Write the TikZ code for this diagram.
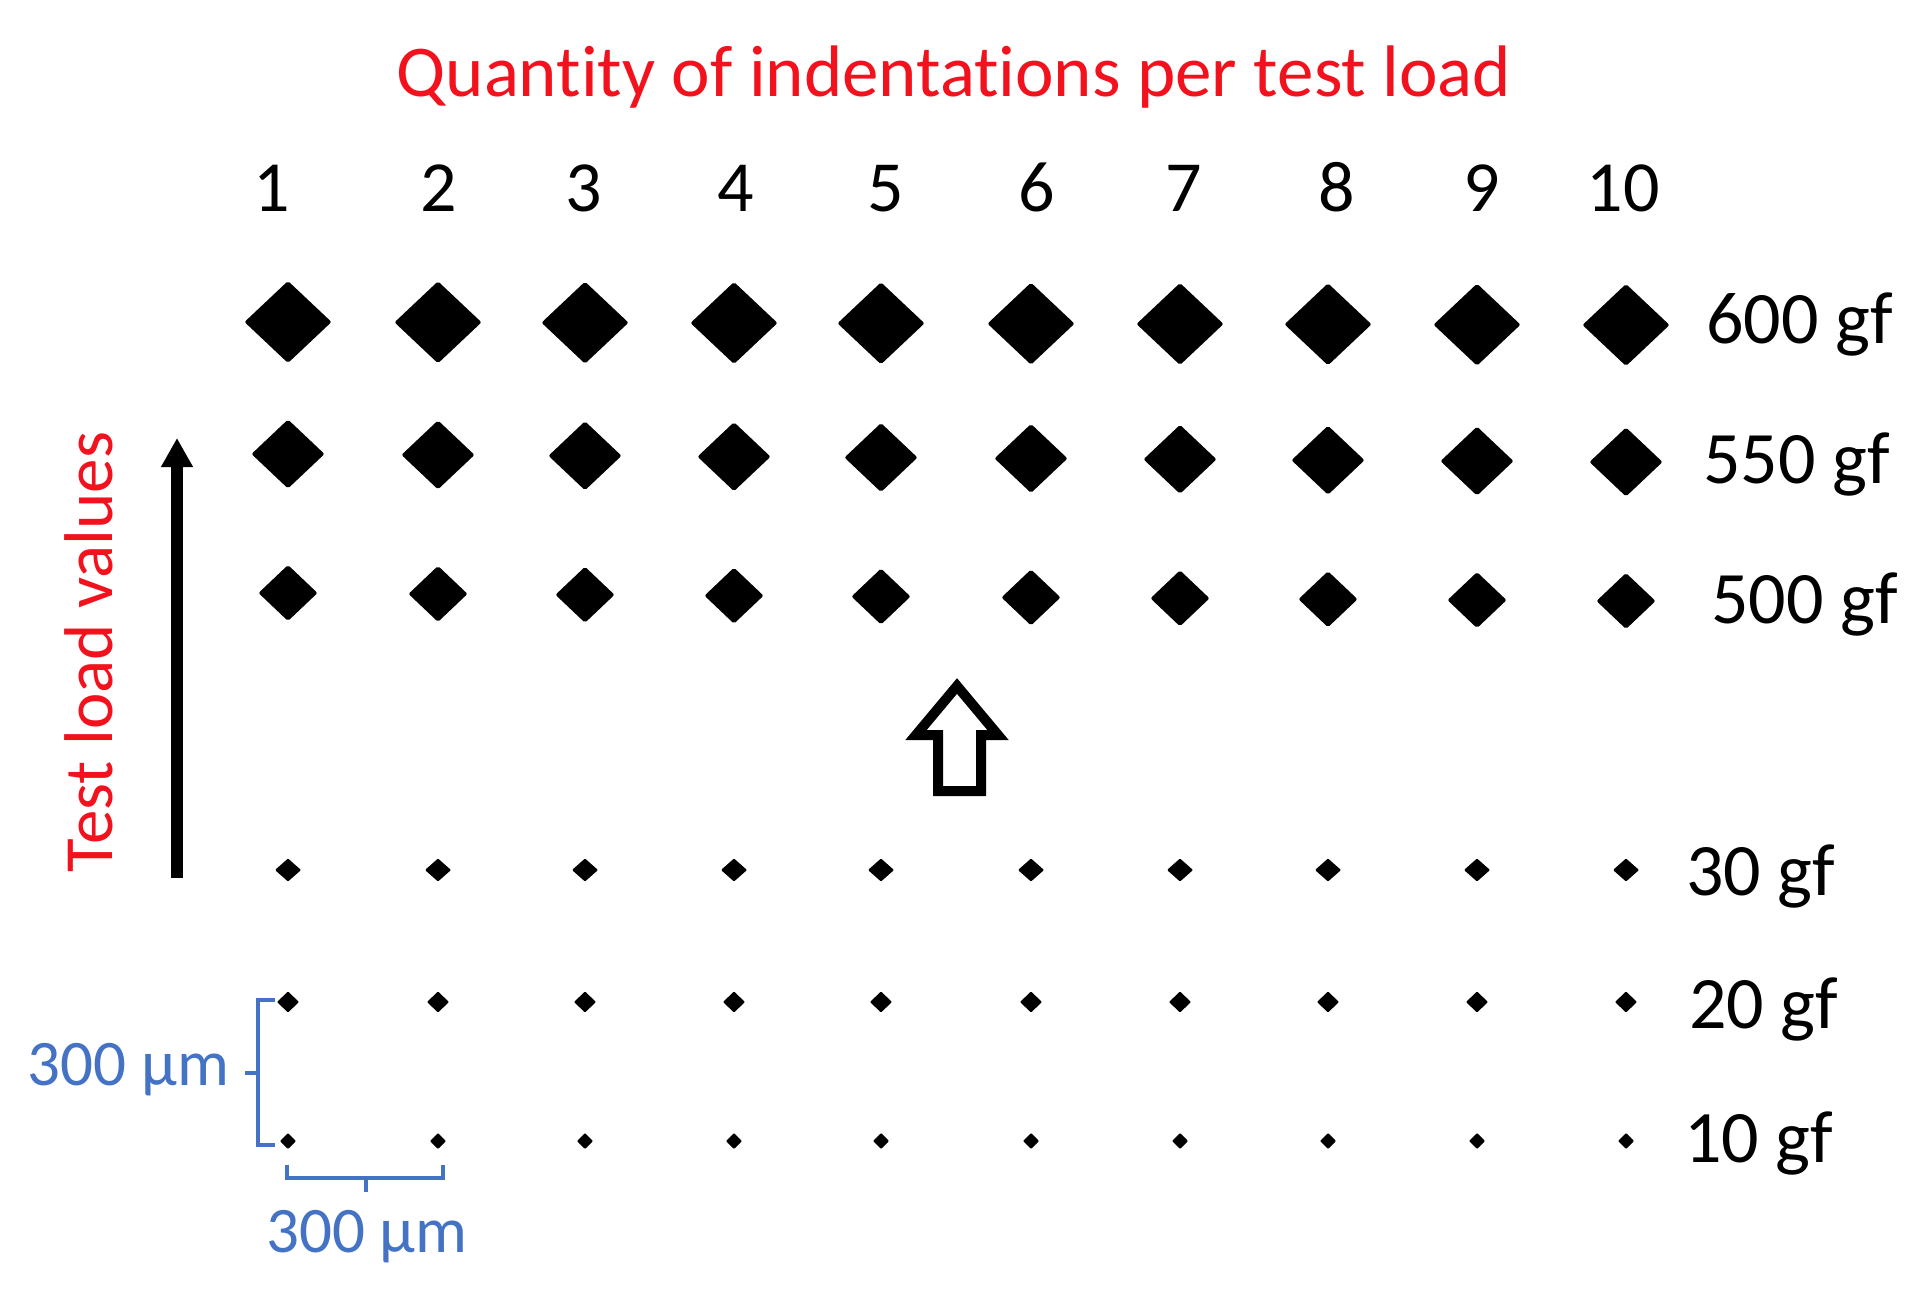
\documentclass[tikz,border=0pt]{standalone}
\usepackage{fontspec}
\setmainfont{Carlito}[Ligatures={NoCommon}]
\usetikzlibrary{shapes.geometric,arrows.meta}
\definecolor{tred}{RGB}{242,18,30}
\definecolor{sblue}{RGB}{68,114,196}
\begin{document}
\begin{tikzpicture}[x=1pt,y=-1pt,
  lbl/.style={inner sep=0pt, outer sep=0pt, font=\fontsize{72}{86}\selectfont},
  rlbl/.style={inner sep=0pt, outer sep=0pt, anchor=base west, font=\fontsize{74}{88}\selectfont},
  scl/.style={inner sep=0pt, outer sep=0pt, text=sblue, font=\fontsize{65}{78}\selectfont},
  dia/.style={shape=diamond, fill=black, draw=none, inner sep=0pt, outer sep=0pt, rounded corners=2pt},
  bar/.style={draw=sblue, line width=4pt},
]
\useasboundingbox[fill=white] (0,0) rectangle (1924,1297);

% title
\node[lbl, anchor=base, text=tred, font=\fontsize{73}{86}\selectfont] (title) at (954,97) {Quantity of indentations per test load};

% column numbers
\foreach \x/\n in {272/1,439/2,584/3,736/4,886/5,1037/6,1184/7,1337/8,1482/9,1623/10}
  \node[lbl, anchor=base] (c\n) at (\x,212) {\n};

% diamonds
\foreach \x [count=\i] in {288,438,585,734,881,1031,1180,1328,1477,1626} {
  \pgfmathsetmacro\ya{322+(\i-1)*3/9}
  \pgfmathsetmacro\yb{454+(\i-1)*8/9}
  \pgfmathsetmacro\yc{593+(\i-1)*8/9}
  \node[dia, minimum width=87pt, minimum height=82pt] (da\i) at (\x,\ya) {};
  \node[dia, minimum width=73pt, minimum height=69pt] (db\i) at (\x,\yb) {};
  \node[dia, minimum width=59pt, minimum height=56pt] (dc\i) at (\x,\yc) {};
  \node[dia, rounded corners=1pt, minimum width=26pt, minimum height=23pt] (dd\i) at (\x,870) {};
  \node[dia, rounded corners=1pt, minimum width=22pt, minimum height=21pt] (de\i) at (\x,1002) {};
  \node[dia, rounded corners=1pt, minimum width=16pt, minimum height=16pt] (df\i) at (\x,1141) {};
}

% row labels
\node[rlbl] (l600) at (1706,343) {600 gf};
\node[rlbl] (l550) at (1703,483) {550 gf};
\node[rlbl] (l500) at (1711,623) {500 gf};
\node[rlbl] (l30) at (1686,895) {30 gf};
\node[rlbl] (l20) at (1689,1028) {20 gf};
\node[rlbl] (l10) at (1684,1162) {10 gf};

% vertical axis label and arrow
\node[lbl, anchor=base, rotate=90, text=tred, font=\fontsize{69}{82}\selectfont] (axis) at (112,652) {Test load values};
\coordinate (va0) at (177,878);
\coordinate (va1) at (177,438);
\draw[line width=12pt, -{Triangle[width=30pt,length=29pt]}] (va0) -- (va1);

% hollow block arrow
\draw[line width=10pt, line join=miter] (957,686) -- (998,735) -- (981,735) -- (981,791)
  -- (938,791) -- (938,735) -- (916,735) -- cycle;

% scale bars
\draw[bar] (275,1000) -- (258,1000) -- (258,1145) -- (275,1145);
\draw[bar] (258,1073) -- (245,1073);
\draw[bar] (287,1165) -- (287,1178) -- (443,1178) -- (443,1165);
\draw[bar] (366,1178) -- (366,1192);
\node[scl, anchor=base east] (sv) at (229,1085) {300 µm};
\node[scl, anchor=base] (sh) at (367,1252) {300 µm};
\end{tikzpicture}
\end{document}
